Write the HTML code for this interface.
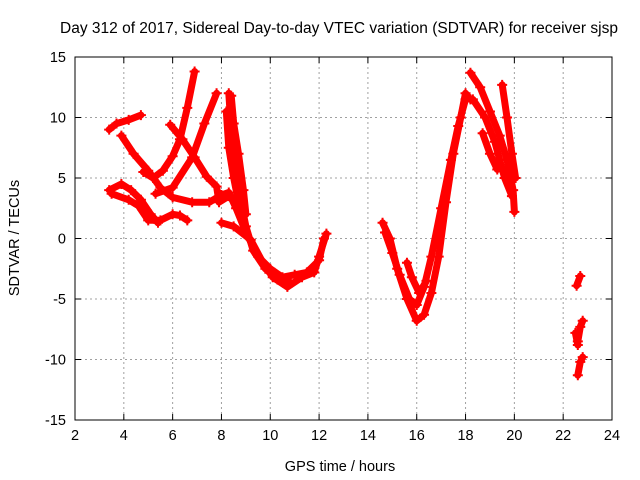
<!DOCTYPE html>
<html><head><meta charset="utf-8"><style>
html,body{margin:0;padding:0;background:#fff;}
svg{display:block;font-family:"Liberation Sans",sans-serif;}
</style></head><body>
<svg id="chart" width="640" height="480" viewBox="0 0 640 480">
<text x="339" y="33" font-size="15.5" text-anchor="middle">Day 312 of 2017, Sidereal Day-to-day VTEC variation (SDTVAR) for receiver sjsp</text>
<text x="340" y="471" font-size="14.5" text-anchor="middle">GPS time / hours</text>
<text x="0" y="0" font-size="14.5" text-anchor="middle" transform="translate(19,238) rotate(-90)">SDTVAR / TECUs</text>
<g id="grid"></g><g id="series"></g><g id="axes"></g>
</svg>
<script>
const xTicks=[2,4,6,8,10,12,14,16,18,20,22,24];
const yTicks=[-15,-10,-5,0,5,10,15];
const seriesA=[[3.9,8.5],[4.4,7.0],[5.0,5.6],[5.5,4.2],[6.0,3.4],[6.8,3.0],[7.5,3.0],[8.0,3.6],[8.3,3.8],[8.6,2.5],[9.0,0.5],[9.5,-1.5],[10.0,-2.5],[10.5,-3.2],[11.0,-3.0],[11.5,-2.8],[12.0,-1.8],[12.2,0]];
const seriesB=[[4.8,5.5],[5.2,5.0],[5.6,5.6],[6.0,6.8],[6.3,8.2],[6.6,10.8],[6.9,13.8]];
const seriesC=[[5.3,3.7],[6.0,4.2],[6.8,6.7],[7.3,9.5],[7.8,12.0]];
const seriesD=[[5.9,9.4],[6.4,8.2],[6.9,6.7],[7.4,5.1],[7.8,4.3],[7.9,3.0],[8.3,3.5]];
const seriesE=[[3.4,4.0],[3.9,4.5],[4.3,4.0],[4.7,3.2],[5.1,2.0],[5.4,1.3]];
const seriesE2=[[3.5,3.7],[4.2,3.2],[4.6,2.7],[5.0,1.5],[5.5,1.5],[6.0,2.0],[6.3,1.9],[6.6,1.5]];
const seriesS1=[[3.4,9.0],[3.7,9.5],[4.2,9.8],[4.7,10.2]];
const seriesF=[[8.0,1.3],[8.5,1.0],[9.2,-0.1],[9.7,-2.0],[10.1,-3.2],[10.7,-4.0],[11.3,-3.2],[11.8,-2.8],[12.0,-1.5],[12.3,0.4]];
const seriesG1=[[8.3,12],[8.4,9],[8.6,6],[8.8,3],[9.0,1.0],[9.3,-1.0],[9.8,-2.5],[10.3,-3.4],[10.8,-3.6]];
const seriesG2=[[8.2,10.5],[8.3,7.5],[8.5,5],[8.7,3]];
const seriesG3=[[8.4,11.8],[8.5,9.5],[8.7,7],[8.9,4],[9.0,2]];
const seriesH1=[[14.6,1.3],[14.9,0],[15.2,-2.5],[15.6,-5],[16.0,-6.8],[16.3,-6.3],[16.6,-4.5],[16.9,-1.5],[17.2,3],[17.5,7],[17.8,10],[18.0,12.0],[18.2,11.5]];
const seriesH2=[[14.7,0.5],[15.0,-1.2],[15.3,-3.0],[15.7,-5.0],[16.0,-5.5],[16.3,-4.0],[16.6,-1.5],[17.0,2.5],[17.4,6.5],[17.7,9.3],[18.0,11.5]];
const seriesH3=[[15.6,-2.0],[15.8,-3.2],[16.1,-4.5],[16.4,-3.5]];
const seriesI1=[[18.2,13.7],[18.6,12.5],[19.0,10.5],[19.4,8.5],[19.7,6.5],[19.95,4],[20.0,2.2]];
const seriesI2=[[18.3,11.5],[18.8,10.0],[19.2,8.0],[19.6,5.0],[19.9,3.5]];
const seriesI3=[[18.7,8.7],[19.0,7.0],[19.3,5.7]];
const seriesI4=[[19.5,12.7],[19.7,10],[19.9,7],[20.05,5]];
const seriesJ1=[[22.55,-3.9],[22.7,-3.1]];
const seriesJ2=[[22.5,-7.8],[22.6,-8.8],[22.6,-8.5],[22.7,-7.3],[22.8,-6.8]];
const seriesJ3=[[22.6,-11.3],[22.7,-10.2],[22.8,-9.8]];
const allSeries=[seriesS1,seriesA,seriesB,seriesC,seriesD,seriesE,seriesE2,seriesF,seriesG1,seriesG2,seriesG3,seriesH1,seriesH2,seriesH3,seriesI1,seriesI2,seriesI3,seriesI4,seriesJ1,seriesJ2,seriesJ3];

const L=75,R=612,T=57,B=420,xmin=2,xmax=24,ymin=-15,ymax=15;
const xs=v=>L+(v-xmin)/(xmax-xmin)*(R-L);
const ys=v=>B-(v-ymin)/(ymax-ymin)*(B-T);
const NS='http://www.w3.org/2000/svg';
function mk(tag,attrs,parent){const e=document.createElementNS(NS,tag);for(const k in attrs)e.setAttribute(k,attrs[k]);parent.appendChild(e);return e;}
const grid=document.getElementById('grid'),axes=document.getElementById('axes'),sg=document.getElementById('series');
xTicks.forEach(t=>{
  const x=xs(t);
  if(t>xmin&&t<xmax){const g=mk('line',{x1:x,x2:x,y1:T,y2:B,stroke:'#a0a0a0','stroke-dasharray':'2,3'},grid);
  
  }
  const a=mk('line',{x1:x,x2:x,y1:B,y2:B-6,stroke:'#000'},axes);
  
  
  const b=mk('line',{x1:x,x2:x,y1:T,y2:T+6,stroke:'#000'},axes);
  
  
  const tx=mk('text',{x:x,y:B+20,'font-size':14.5,'text-anchor':'middle'},axes);tx.textContent=t;
  
  
});
yTicks.forEach(t=>{
  const y=ys(t);
  if(t>ymin&&t<ymax){const g=mk('line',{x1:L,x2:R,y1:y,y2:y,stroke:'#a0a0a0','stroke-dasharray':'2,3'},grid);
  
  }
  const a=mk('line',{x1:L,x2:L+6,y1:y,y2:y,stroke:'#000'},axes);
  
  
  const b=mk('line',{x1:R,x2:R-6,y1:y,y2:y,stroke:'#000'},axes);
  
  
  const tx=mk('text',{x:L-9,y:y+5,'font-size':14.5,'text-anchor':'end'},axes);tx.textContent=t;
  
  
});
const fr=mk('rect',{x:L,y:T,width:R-L,height:B-T,fill:'none',stroke:'#000'},axes);


allSeries.forEach(s=>{
  const pts=s.map(p=>xs(p[0]).toFixed(1)+','+ys(p[1]).toFixed(1)).join(' ');
  const pl=mk('polyline',{points:pts,fill:'none',stroke:'#ff0000','stroke-width':7,'stroke-linejoin':'round','stroke-linecap':'round'},sg);
  
  
  s.forEach(p=>{
    const x=xs(p[0]),y=ys(p[1]);
    const m=mk('path',{d:`M${x-5},${y}H${x+5}M${x},${y-5}V${y+5}`,stroke:'#ff0000','stroke-width':2},sg);
    
    
  });
});
</script>
</body></html>
